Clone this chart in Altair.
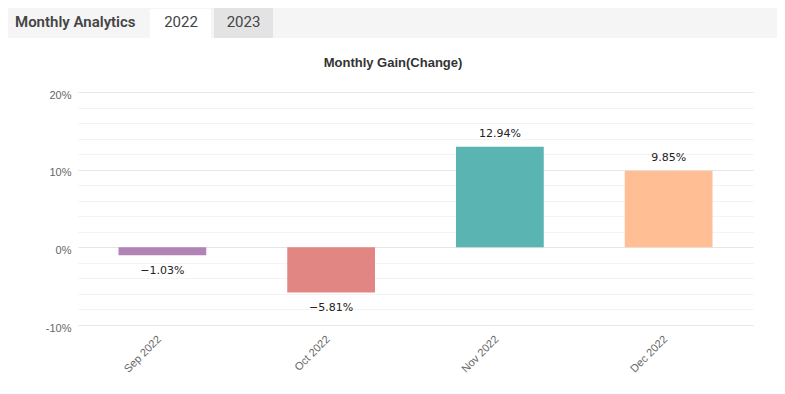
import altair as alt
import pandas as pd

# ---- data ----
months = ["Sep 2022", "Oct 2022", "Nov 2022", "Dec 2022"]
gains = [-1.03, -5.81, 12.94, 9.85]
bar_colors = ["#b284b6", "#e28684", "#5ab4b2", "#ffbe94"]
grid_values = list(range(-10, 21, 2))
tabs = ["2022", "2023"]

df = pd.DataFrame({"month": months, "gain": gains})
one = pd.DataFrame({"k": [0]})

FONT = "Roboto"
AFONT = "Liberation Sans"

x_enc = alt.X(
    "month:N",
    sort=months,
    scale=alt.Scale(paddingInner=0.48, paddingOuter=0.24),
    axis=alt.Axis(
        title=None, labelAngle=-45, ticks=False, domain=False,
        labelPadding=8, labelOffset=-7, labelColor="#666666",
        labelFontSize=11, labelFont=AFONT, grid=False,
    ),
)
y_enc = alt.Y(
    "gain:Q",
    scale=alt.Scale(domain=[-10, 20], nice=False, zero=False),
    axis=alt.Axis(
        title=None, values=grid_values, ticks=False, domain=False,
        labelExpr="datum.value % 10 == 0 ? datum.value + '%' : ''",
        labelColor="#666666", labelFontSize=11, labelFont=AFONT, labelPadding=7,
        labelOffset=3,
        gridColor={"condition": {"test": "datum.value % 10 == 0", "value": "#e6e6e6"},
                   "value": "#f3f3f3"},
        gridWidth=1,
    ),
)

base = alt.Chart(df).transform_calculate(
    label="format(datum.gain, '.2f') + '%'"
)

bars = base.mark_bar().encode(
    x=x_enc,
    y=y_enc,
    y2=alt.datum(0),
    color=alt.Color("month:N", sort=months,
                    scale=alt.Scale(domain=months, range=bar_colors), legend=None),
)

pos_labels = base.transform_filter("datum.gain >= 0").mark_text(
    baseline="alphabetic", dy=-10, font="DejaVu Sans", fontSize=11, color="#222222"
).encode(x=x_enc, y=y_enc, text="label:N")

neg_labels = base.transform_filter("datum.gain < 0").mark_text(
    baseline="top", dy=10, font="DejaVu Sans", fontSize=11, color="#222222"
).encode(x=x_enc, y=y_enc, text="label:N")

# ---- header decorations ----
hdr = alt.Chart(one)
header_bg = hdr.mark_rect(color="#f5f5f5").encode(
    x=alt.value(-70), x2=alt.value(699), y=alt.value(-84), y2=alt.value(-54))
tab1 = hdr.mark_rect(color="#ffffff").encode(
    x=alt.value(72), x2=alt.value(133), y=alt.value(-83), y2=alt.value(-54))
tab2 = hdr.mark_rect(color="#e3e3e3").encode(
    x=alt.value(136), x2=alt.value(195), y=alt.value(-84), y2=alt.value(-54))
header_text = hdr.mark_text(
    text="Monthly Analytics", font=FONT, fontSize=15, fontWeight=600,
    color="#444444", align="left", baseline="middle",
).encode(x=alt.value(-63), y=alt.value(-70))
tab1_text = hdr.mark_text(
    text=tabs[0], font=FONT, fontSize=15, color="#444444", align="center", baseline="middle",
).encode(x=alt.value(103), y=alt.value(-70))
tab2_text = hdr.mark_text(
    text=tabs[1], font=FONT, fontSize=15, color="#444444", align="center", baseline="middle",
).encode(x=alt.value(165.5), y=alt.value(-70))
title_text = hdr.mark_text(
    text="Monthly Gain(Change)", font=AFONT, fontSize=13, fontWeight="bold",
    color="#333333", align="center", baseline="middle",
).encode(x=alt.value(315), y=alt.value(-29))

chart = alt.layer(
    header_bg, tab1, tab2, header_text, tab1_text, tab2_text, title_text,
    bars, pos_labels, neg_labels,
).properties(width=675, height=233, padding=0).configure_view(stroke=None)

chart.save("out.html", embed_options={"renderer": "svg", "actions": False})
